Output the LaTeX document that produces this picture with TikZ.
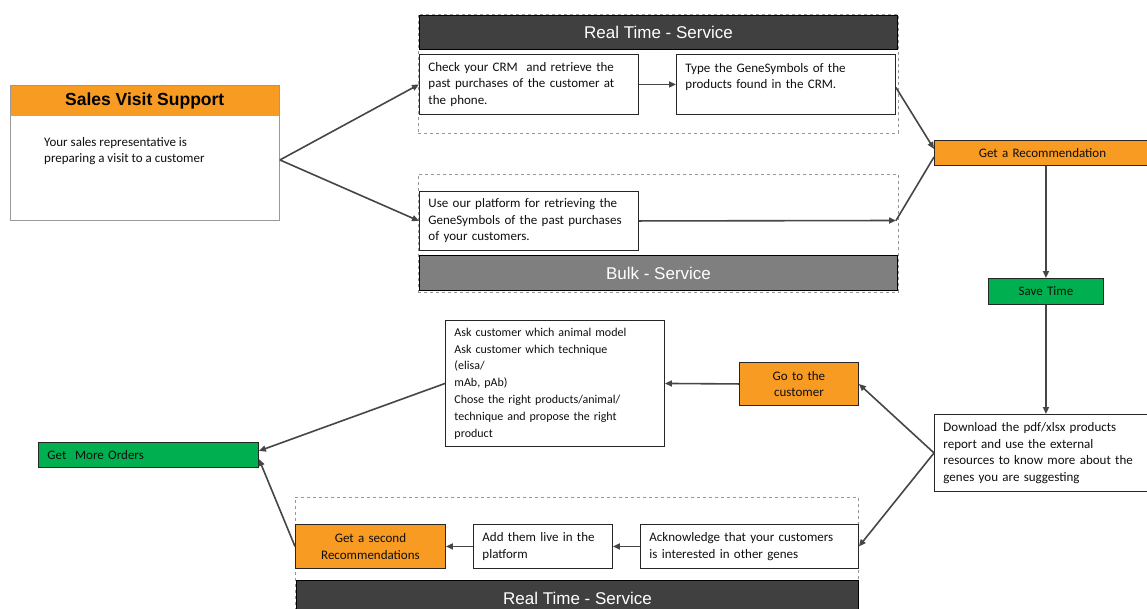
\documentclass[tikz,border=0pt]{standalone}
\usepackage{fontspec}
\setmainfont{Carlito}
\newfontfamily\arialf{Liberation Sans}
\usetikzlibrary{arrows.meta}
\definecolor{orng}{RGB}{247,155,35}
\definecolor{grn}{RGB}{0,176,80}
\definecolor{darkhdr}{RGB}{64,64,64}
\definecolor{bulkhdr}{RGB}{127,127,127}
\definecolor{linec}{RGB}{70,70,70}
\definecolor{txt}{RGB}{15,15,15}
\definecolor{dashc}{RGB}{150,150,150}
\begin{document}
\begin{tikzpicture}[x=1pt,y=-1pt,
  bodyfont/.style={font=\fontsize{13}{16.5}\selectfont},
  box/.style={draw=black!85, line width=0.9pt, fill=white, anchor=north west,
    inner xsep=9pt, inner ysep=0pt, text=txt, align=left, bodyfont},
  obox/.style={box, fill=orng, align=center},
  gbox/.style={box, fill=grn},
  container/.style={draw=dashc, dashed, line width=0.7pt, anchor=north west, inner sep=0pt},
  hdr/.style={draw=black, line width=1pt, anchor=north west, inner sep=0pt, text=white,
    font=\arialf\fontsize{17}{20}\selectfont},
  arr/.style={draw=linec, line width=1.6pt, -{Triangle[length=7pt,width=6pt]}},
  ln/.style={draw=linec, line width=1.6pt}
]
\useasboundingbox (0,0) rectangle (1147,608);
\fill[white] (0,0) rectangle (1147,608);

% Sales Visit Support
\node[draw=black!40, line width=0.9pt, fill=white, anchor=north west, minimum width=269pt, minimum height=135pt, inner sep=0pt] (sales) at (10,85) {};
\node[fill=orng, anchor=north west, minimum width=268pt, minimum height=30pt, inner sep=0pt,
  font=\arialf\bfseries\fontsize{17.5}{20}\selectfont, text=black] (salesh) at (10.5,85.5) {Sales Visit Support};
\node[anchor=north west, inner sep=0pt, align=left, text=txt, bodyfont] (salest) at (44,137)
  {Your sales representative is\\preparing a visit to a customer};

% Real Time - Service (top)
\node[container, minimum width=480pt, minimum height=119pt] (rt1) at (418,14) {};
\node[hdr, fill=darkhdr, minimum width=478pt, minimum height=34pt] (rt1h) at (419,15) {Real Time - Service};
\node[box, text width=201pt, minimum height=60pt] (crm) at (419,54)
  {Check your CRM~ and retrieve the\\past purchases of the customer at\\the phone.};
\node[box, text width=201pt, minimum height=60pt] (type) at (676,54)
  {Type the GeneSymbols of the\\products found in the CRM.\\\mbox{}};

% Bulk - Service
\node[container, minimum width=480pt, minimum height=118pt] (bk1) at (418,174) {};
\node[hdr, fill=bulkhdr, minimum width=478pt, minimum height=35pt] (bkh) at (419,255) {Bulk - Service};
\node[box, text width=201pt, minimum height=59pt] (use) at (419,191)
  {Use our platform for retrieving the\\GeneSymbols of the past purchases\\of your customers.};
\coordinate (bkpt) at (896,220.5);

% Right column
\node[obox, text width=198pt, minimum height=25pt] (getrec) at (934,140) {Get a Recommendation};
\node[gbox, align=center, text width=97pt, minimum height=26pt] (save) at (988,278) {Save Time};
\node[box, text width=198pt, minimum height=77pt] (download) at (934,414)
  {Download the pdf/xlsx products\\report and use the external\\resources to know more about the\\genes you are suggesting};

% Middle
\node[obox, text width=101pt, minimum height=43pt] (goto) at (739,362) {Go to the\\customer};
\node[box, text width=201pt, minimum height=126pt, font=\fontsize{12}{16.8}\selectfont] (ask) at (445,320)
  {Ask customer which animal model\\Ask customer which technique\\(elisa/\\mAb, pAb)\\Chose the right products/animal/\\technique and propose the right\\product};
\node[gbox, text width=202pt, minimum height=25pt] (gmo) at (38,442) {Get~ More Orders};

% Real Time - Service (bottom)
\node[container, minimum width=563pt, minimum height=125pt] (rt2) at (295,497) {};
\node[hdr, fill=darkhdr, minimum width=562pt, minimum height=36pt] (rt2h) at (296,580) {Real Time - Service};
\node[obox, text width=132pt, minimum height=44pt] (second) at (295,524) {Get a second\\Recommendations};
\node[box, text width=121pt, minimum height=44pt] (addlive) at (473,524) {Add them live in the\\platform};
\node[box, text width=200pt, minimum height=44pt] (ack) at (640,524) {Acknowledge that your customers\\is interested in other genes};

% Connectors
\draw[arr] ([yshift=-7pt]sales.east) -- (crm.west);
\draw[arr] ([yshift=-7pt]sales.east) -- (use.west);
\draw[arr] (crm.east) -- (type.west);
\draw[arr] ([yshift=-3pt]type.east) -- ([yshift=4pt]getrec.west);
\draw[arr] (use.east) -- (bkpt);
\draw[ln] (bkpt) -- ([yshift=-4pt]getrec.west);
\draw[arr] (getrec.south -| save.north) -- (save.north);
\draw[arr] (save.south) -- (save.south |- download.north);
\draw[arr] (download.west) -- (goto.east);
\draw[arr] (download.west) -- (ack.east);
\draw[arr] (goto.west) -- (ask.east);
\draw[arr] (ask.west) -- ([yshift=4pt]gmo.east);
\draw[arr] (second.west) -- ([yshift=-4pt]gmo.east);
\draw[arr] (ack.west) -- (addlive.east);
\draw[arr] (addlive.west) -- (second.east);
\end{tikzpicture}
\end{document}
